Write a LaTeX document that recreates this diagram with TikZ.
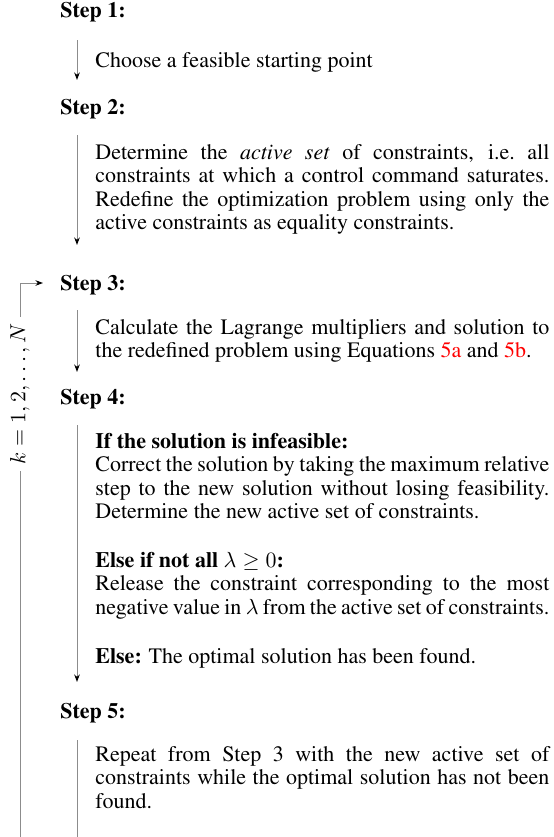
\documentclass[tikz,border=0pt]{standalone}
\usepackage[T1]{fontenc}
\renewcommand{\rmdefault}{ptm}
\usepackage{amsmath}
\usetikzlibrary{arrows.meta}

\definecolor{linegray}{gray}{0.55}

\begin{document}
\begin{tikzpicture}[x=0.5pt,y=-0.5pt,
    >={Stealth[length=3.8pt,width=2.8pt,color=black]},
    head/.style={anchor=base west,inner sep=0pt,font=\fontsize{11}{11.8}\selectfont\bfseries},
    body/.style={anchor=base west,inner sep=0pt,text width=227pt,align=justify,
                 font=\fontsize{11}{11.8}\selectfont},
    flow/.style={->,draw=linegray,line width=0.5pt}]
\useasboundingbox (0,0) rectangle (553,837);

% ============================================
% STEP 1 – starting point
% ============================================
        \node[head] (s1) at (60,17) {Step 1:};
        \node[body] (b1) at (95,67) {Choose a feasible starting point};
        \coordinate (a1s) at (77,40);
        \coordinate (a1e) at (77,80);
        \draw[flow] (a1s) -- (a1e);

% ============================================
% STEP 2 – active set
% ============================================
        \node[head] (s2) at (60,114) {Step 2:};
        \node[body] (b2) at (95,159) {Determine the \emph{active set} of constraints, i.e.\ all\linebreak
            constraints at which a control command saturates.\linebreak
            Redefine the optimization problem using only the\linebreak
            active constraints as equality constraints.};
        \coordinate (a2s) at (77,135);
        \coordinate (a2e) at (77,245);
        \draw[flow] (a2s) -- (a2e);

% ============================================
% STEP 3 – Lagrange multipliers
% ============================================
        \node[head] (s3) at (60,290) {Step 3:};
        \node[body] (b3) at (95,334) {Calculate the Lagrange multipliers and solution to\linebreak
            the redefined problem using Equations \textcolor{red}{5a} and \textcolor{red}{5b}.};
        \coordinate (a3s) at (77,310);
        \coordinate (a3e) at (77,372);
        \draw[flow] (a3s) -- (a3e);

% ============================================
% STEP 4 – feasibility check
% ============================================
        \node[head] (s4) at (60,404) {Step 4:};
        \node[body] (b4a) at (95,448) {\textbf{If the solution is infeasible:}\\
            Correct the solution by taking the maximum relative\linebreak
            step to the new solution without losing feasibility.\linebreak
            Determine the new active set of constraints.};
        \node[body] (b4b) at (95,567) {\textbf{Else if not all} $\lambda\geq 0$\textbf{:}\\
            Release the constraint corresponding to the most\linebreak
            negative value in $\lambda$ from the active set of constraints.};
        \node[body] (b4c) at (95,663) {\textbf{Else:} The optimal solution has been found.};
        \coordinate (a4s) at (77,425);
        \coordinate (a4e) at (77,682);
        \draw[flow] (a4s) -- (a4e);

% ============================================
% STEP 5 – repeat
% ============================================
        \node[head] (s5) at (60,718) {Step 5:};
        \node[body] (b5) at (95,761) {Repeat from Step 3 with the new active set of\linebreak
            constraints while the optimal solution has not been\linebreak
            found.};
        \coordinate (a5s) at (77,740);
        \coordinate (a5e) at (77,837);
        \draw[draw=linegray,line width=0.5pt] (a5s) -- (a5e);

% ============================================
% Loop back to step 3
% ============================================
        \coordinate (loopbot) at (20,837);
        \coordinate (loopend) at (43,283);
        \draw[flow] (loopbot) |- (loopend);
        \node[rotate=90,fill=white,inner sep=3pt,font=\fontsize{10.5}{12}\selectfont] (kcount) at (20,394) {$k=1,2,\ldots,N$};
\end{tikzpicture}
\end{document}
